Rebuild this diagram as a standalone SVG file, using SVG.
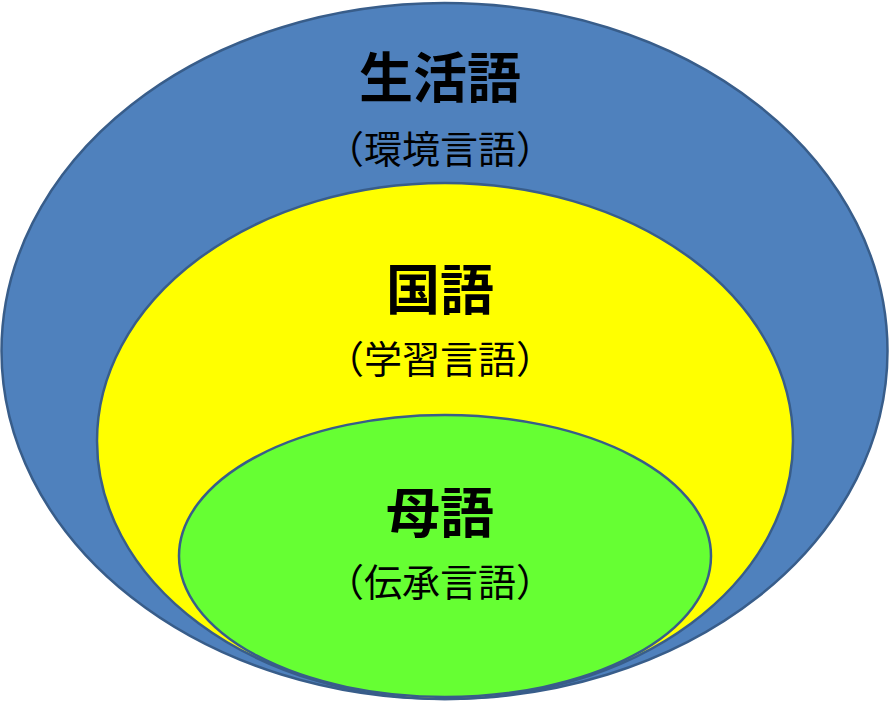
<svg xmlns="http://www.w3.org/2000/svg" width="890" height="702" viewBox="0 0 890 702">
<style>
.e{stroke:#385D8A;stroke-width:2.5}
.t{font-family:"Noto Sans CJK JP",sans-serif;fill:#000;text-anchor:middle}
.b{font-size:54px;font-weight:bold}
.s{font-size:38px}
</style>
<rect width="890" height="702" fill="#fff"/>
<g id="outer"><ellipse class="e" cx="444.5" cy="351" rx="443" ry="348" fill="#4F81BD"/>
<text class="t b" x="440" y="98">生活語</text><text class="t s" x="440" y="163">（環境言語）</text></g>
<g id="middle"><ellipse class="e" cx="445" cy="441" rx="348" ry="258" fill="#FFFF00"/>
<text class="t b" x="440" y="310">国語</text><text class="t s" x="440" y="373">（学習言語）</text></g>
<g id="inner"><ellipse class="e" cx="445" cy="556" rx="266" ry="141" fill="#66FF33"/>
<text class="t b" x="440" y="533">母語</text><text class="t s" x="440" y="596">（伝承言語）</text></g>
<g id="connectors"/>
</svg>
